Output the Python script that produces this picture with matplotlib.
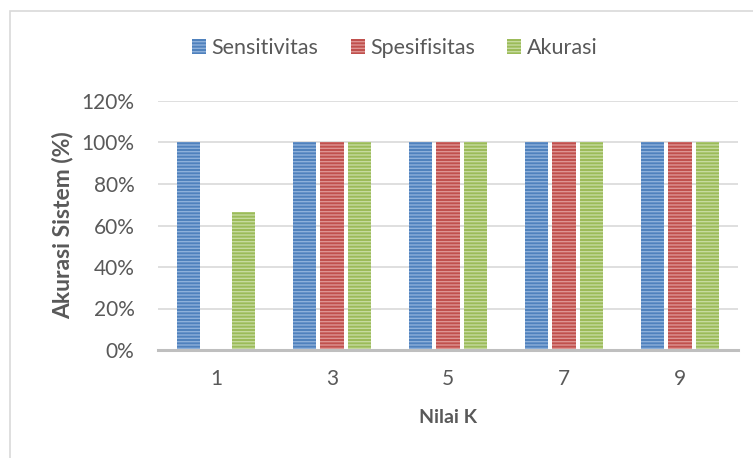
import numpy as np
import matplotlib
matplotlib.use("Agg")
from matplotlib import pyplot as plt
from matplotlib.patches import Rectangle

# data
nilai_k = ["1", "3", "5", "7", "9"]
sensitivitas = [100, 100, 100, 100, 100]
spesifisitas = [0, 100, 100, 100, 100]
akurasi = [66.7, 100, 100, 100, 100]

plt.rcParams['font.family'] = ['Lato', 'DejaVu Sans']
plt.rcParams['hatch.linewidth'] = 1.0
txt = '#595959'

fig = plt.figure(figsize=(7.53, 4.58), dpi=100)
ax = fig.add_axes([158/753, 1-350/458, 580/753, 249/458])

x = np.arange(len(nilai_k))
w = 0.2
gap = 0.24
series = [(sensitivitas, '#4F81BD', '#8DB0DA', 'Sensitivitas'),
          (spesifisitas, '#C0504D', '#DE9492', 'Spesifisitas'),
          (akurasi, '#9BBB59', '#C6DA9E', 'Akurasi')]
for i, (vals, col, light, name) in enumerate(series):
    ax.bar(x + (i-1)*gap, vals, w, color=col, edgecolor=light, hatch='-----',
           linewidth=0, label=name, zorder=3)

ax.set_xlim(-0.5, 4.5)
ax.set_ylim(0, 120)
ax.set_yticks(range(0, 121, 20))
ax.set_yticklabels([f"{v}%" for v in range(0, 121, 20)])
ax.set_xticks(x)
ax.set_xticklabels(nilai_k)
ax.yaxis.grid(True, color='#D9D9D9', linewidth=1.2, zorder=0)
ax.tick_params(length=0, labelsize=15, colors=txt)
ax.tick_params(axis='y', pad=17)
ax.tick_params(axis='x', pad=14)
for s in ['top', 'right', 'left']:
    ax.spines[s].set_visible(False)
ax.spines['bottom'].set_color('#BFBFBF')
ax.spines['bottom'].set_linewidth(2.2)
ax.spines['bottom'].set_zorder(4)

ax.set_ylabel('Akurasi Sistem (%)', fontsize=16.5, fontweight='bold', color=txt)
ax.yaxis.set_label_coords(-0.145, 0.5)
ax.set_xlabel('Nilai K', fontsize=14, fontweight='bold', color=txt, labelpad=14)

fig.legend(loc='center', bbox_to_anchor=(395/753, 1-48/458), ncol=3, frameon=False,
           fontsize=15.5, labelcolor=txt, handlelength=0.65, handleheight=0.65,
           handletextpad=0.25, columnspacing=1.5)

# outer chart border
fig.patches.append(Rectangle((10/753, -0.1), 1.0, 1-11/458+0.1, transform=fig.transFigure,
                             fill=False, edgecolor='#D9D9D9', linewidth=1.2))

fig.savefig('out.png', dpi=100)
